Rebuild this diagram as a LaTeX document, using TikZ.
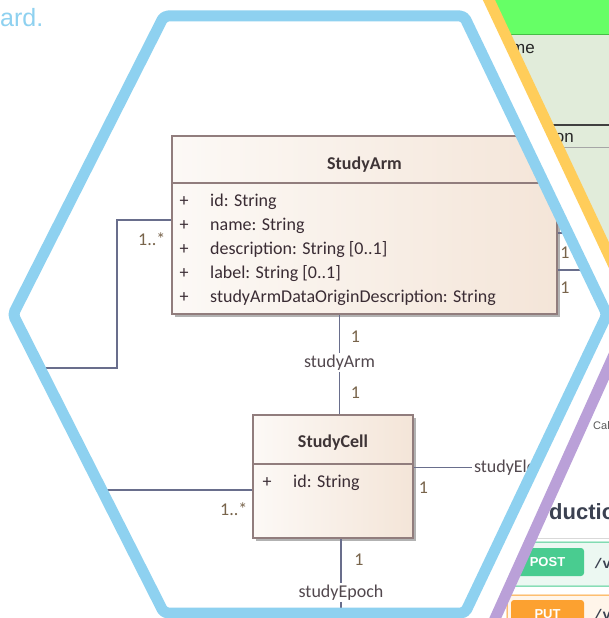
\documentclass[tikz,border=0pt]{standalone}
\usepackage{fontspec}
\usetikzlibrary{shadows}
\newfontfamily\uml{Carlito}
\newfontfamily\lsans{Liberation Sans}
\newfontfamily\lmono{Liberation Mono}
\definecolor{hexblue}{RGB}{142,209,240}
\definecolor{hexyellow}{RGB}{255,205,90}
\definecolor{hexpurple}{RGB}{186,160,216}
\definecolor{conn}{RGB}{105,110,140}
\definecolor{boxborder}{RGB}{145,125,125}
\definecolor{boxleft}{RGB}{252,249,246}
\definecolor{boxright}{RGB}{244,229,216}
\definecolor{attrtext}{RGB}{58,44,52}
\definecolor{nametext}{RGB}{62,52,54}
\definecolor{roletext}{RGB}{82,72,78}
\definecolor{multtext}{RGB}{120,100,75}
\definecolor{headgreen}{RGB}{102,255,102}
\definecolor{headline}{RGB}{70,190,70}
\definecolor{tablegreen}{RGB}{225,236,218}
\definecolor{postgreen}{RGB}{73,204,144}
\definecolor{postbg}{RGB}{236,248,242}
\definecolor{putorange}{RGB}{252,161,48}
\definecolor{putbg}{RGB}{255,245,234}
\definecolor{swagtext}{RGB}{59,65,81}
\tikzset{
  classbox/.style={draw=boxborder, line width=1.5pt, left color=boxleft, right color=boxright,
    inner sep=0pt, drop shadow={shadow xshift=2.5pt, shadow yshift=-2.5pt, fill=black, opacity=0.3}},
  boxsep/.style={draw=boxborder, line width=1.2pt},
  umlname/.style={font=\uml\bfseries\fontsize{18}{21}\selectfont, text=nametext, inner sep=0pt},
  umlattr/.style={font=\uml\fontsize{18}{21}\selectfont, text=attrtext, inner sep=0pt, anchor=base west},
  umlmark/.style={font=\uml\fontsize{18}{21}\selectfont, text=attrtext, inner sep=0pt, anchor=base},
  role/.style={font=\uml\fontsize{18}{21}\selectfont, text=roletext, inner sep=0pt, outer sep=2pt},
  mult/.style={font=\uml\fontsize{18}{21}\selectfont, text=multtext, inner sep=0pt},
  connline/.style={draw=conn, line width=1.4pt},
  hexline/.style={line width=11pt, line join=round},
  tabtext/.style={font=\lsans\fontsize{17}{20}\selectfont, text=black!85, inner sep=0pt},
  badge/.style={rectangle, rounded corners=3pt, text=white, inner sep=0pt,
    font=\lsans\bfseries\fontsize{13}{15}\selectfont, minimum width=73pt, minimum height=28pt},
  pathtext/.style={font=\lmono\bfseries\fontsize{14}{16}\selectfont, text=swagtext, inner sep=0pt, anchor=base west}
}
\begin{document}
\begin{tikzpicture}[x=1pt,y=-1pt]
\useasboundingbox (0,0) rectangle (609,618);
\fill[white] (0,0) rectangle (609,618);

% text cut at the left
\node[anchor=base west, inner sep=0pt, text=hexblue, font=\lsans\fontsize{25}{28}\selectfont] (ard) at (0,27) {ard.};

% ---------- yellow hexagon (upper right) ----------
\begin{scope}
  \clip (486.6,-5) -- (640,-5) -- (640,280) -- (620.6,280) -- cycle;
  \fill[tablegreen] (470,35) rectangle (640,280);
  \fill[headgreen] (470,-5) rectangle (640,35);
  \draw[headline, line width=1pt] (470,35) -- (640,35);
  \draw[black!75, line width=1.2pt] (470,125) -- (640,125);
  \draw[black!35, line width=0.8pt] (470,147) -- (640,147);
  \node[tabtext, anchor=base east] (tme) at (535,53) {me};
  \node[tabtext, anchor=base east] (ton) at (574,142) {on};
\end{scope}
\draw[hexyellow, hexline] (486.6,-5) -- (620.6,280);

% ---------- purple hexagon (lower right) ----------
\begin{scope}
  \clip (622.9,335) -- (650,335) -- (650,640) -- (485.4,640) -- cycle;
  \node[anchor=base west, inner sep=0pt, font=\lsans\fontsize{11}{13}\selectfont, text=black!65] (cal) at (593,429) {Cal};
  \node[anchor=base west, inner sep=0pt, font=\lsans\bfseries\fontsize{22}{26}\selectfont, text=swagtext] (duct) at (549,519) {ductio};
  \draw[black!15, line width=1pt] (470,538) -- (650,538);
  \draw[postgreen, fill=postbg, line width=1pt, rounded corners=3pt] (507,542) rectangle (660,586);
  \node[badge, fill=postgreen] (post) at (547.5,562) {POST};
  \node[pathtext] (pv1) at (594,568) {/v};
  \draw[putorange, fill=putbg, line width=1pt, rounded corners=3pt] (507,595) rectangle (660,660);
  \node[badge, fill=putorange] (put) at (547.5,614) {PUT};
  \node[pathtext] (pv2) at (594,619) {/v};
\end{scope}
\draw[hexpurple, hexline] (622.9,335) -- (485.4,640);

% ---------- blue hexagon with the UML diagram ----------
\begin{scope}
  \clip (164,16) -- (464,16) -- (607,314.5) -- (465,613) -- (164,613) -- (13,314.5) -- cycle;

  % StudyArm class
  \node[classbox, minimum width=385pt, minimum height=178pt] (arm) at (364.5,225) {};
  \draw[boxsep] (arm.west |- 0,183) -- (arm.east |- 0,183);
  \node[umlname, anchor=base] (armname) at (364.5,169) {StudyArm};
  \foreach \yy/\txt [count=\i] in {206/{id: String},230/{name: String},254/{description: String [0..1]},278/{label: String [0..1]},302/{studyArmDataOriginDescription: String}}{
    \node[umlmark] (armplus\i) at (184,\yy) {+};
    \node[umlattr] (armattr\i) at (210,\yy) {\txt};
  }

  % StudyCell class
  \node[classbox, minimum width=160pt, minimum height=123pt] (cell) at (333,476.5) {};
  \draw[boxsep] (cell.west |- 0,464) -- (cell.east |- 0,464);
  \node[umlname, anchor=base] (cellname) at (333,447) {StudyCell};
  \node[umlmark] (cellplus) at (267,487) {+};
  \node[umlattr] (cellattr) at (293,487) {id: String};

  % role labels
  \node[role, anchor=base] (rarm) at (339.5,367) {studyArm};
  \node[role, anchor=base] (repoch) at (341,597) {studyEpoch};
  \node[role, anchor=base west] (rele) at (472,472) {studyEle};

  % connectors
  \coordinate (armBend) at (117,220);
  \coordinate (armLeftEnd) at (0,368);
  \coordinate (cellLeftEnd) at (0,490);
  \coordinate (epochEnd) at (341,640);
  \coordinate (armR1) at (640,233);
  \coordinate (armR2) at (640,270);
  \draw[connline] (arm.west |- armBend) -- (armBend) |- (armLeftEnd);
  \draw[connline] (cell.west |- cellLeftEnd) -- (cellLeftEnd);
  \draw[connline] (arm.south -| rarm.north) -- (rarm.north);
  \draw[connline] (rarm.south) -- (rarm.south |- cell.north);
  \draw[connline] (cell.south -| repoch.north) -- (repoch.north);
  \draw[connline] (repoch.south) -- (epochEnd);
  \draw[connline] (rele.west -| cell.east) -- (rele.west);
  \draw[connline] (arm.east |- armR1) -- (armR1);
  \draw[connline] (arm.east |- armR2) -- (armR2);

  % multiplicities
  \node[mult, anchor=base west] (m5) at (138,245) {1..*};
  \node[mult, anchor=base west] (m6) at (220,515) {1..*};
  \node[mult, anchor=base] (m1) at (355.5,342) {1};
  \node[mult, anchor=base] (m2) at (355.5,398) {1};
  \node[mult, anchor=base] (m3) at (423.5,493) {1};
  \node[mult, anchor=base] (m4) at (359,565) {1};
  \node[mult, anchor=base] (m7) at (565,258) {1};
  \node[mult, anchor=base] (m8) at (565,293) {1};
\end{scope}
\draw[hexblue, hexline, rounded corners=4pt] (164,16) -- (464,16) -- (607,314.5) -- (465,613) -- (164,613) -- (13,314.5) -- cycle;
\end{tikzpicture}
\end{document}
